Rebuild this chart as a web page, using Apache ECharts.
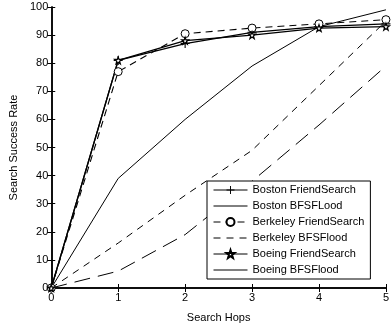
<!DOCTYPE html>
<html><head><meta charset="utf-8">
<script src="https://cdn.jsdelivr.net/npm/echarts@6/dist/echarts.min.js"></script>
<style>html,body{margin:0;padding:0;background:#fff}#c{width:392px;height:328px}</style>
</head><body><div id="c"></div>
<script>
var hops = [0, 1, 2, 3, 4, 5];
var xTicks = [0, 1, 2, 3, 4, 5];
var yTicks = [0, 10, 20, 30, 40, 50, 60, 70, 80, 90, 100];
var seriesNames = ['Boston FriendSearch', 'Boston BFSFLood', 'Berkeley FriendSearch', 'Berkeley BFSFlood', 'Boeing FriendSearch', 'Boeing BFSFlood'];
var bostonFriend = [0, 81, 87, 91, 93, 94];
var bostonBFS = [0, 39, 60, 79, 93, 99];
var berkeleyFriend = [0, 77, 90.5, 92.5, 94, 95.5];
var berkeleyBFS = [0, 16, 33, 49, 72, 95];
var boeingFriend = [0, 81, 88, 90, 92.5, 93];
var boeingBFS = [0, 6, 19, 38, 58, 79];

function pts(arr){ return hops.map(function(h,i){ return [h, arr[i]]; }); }
var plusSym = 'path://M4.4,0L5.6,0L5.6,4.4L10,4.4L10,5.6L5.6,5.6L5.6,10L4.4,10L4.4,5.6L0,5.6L0,4.4L4.4,4.4Z';
var boeingSym = 'path://M5,0L6.2,3.5L10,3.5L7,5.8L8.1,9.5L5,7.3L1.9,9.5L3,5.8L0,3.5L3.8,3.5Z';

var font = 'Liberation Sans, Arial, sans-serif';
var chart = echarts.init(document.getElementById('c'));
var hidden = {opacity: 0, color: '#000'};
function mk(name, data, opts){
  return Object.assign({
    name: name, type: 'line', data: pts(data), xAxisIndex: 0, yAxisIndex: 0,
    symbol: 'none', animation: false, z: 3,
    lineStyle: {color: '#000', width: 1, type: 'solid'},
    itemStyle: {color: '#000', borderColor: '#000', borderWidth: 1}
  }, opts);
}
chart.setOption({
  animation: false,
  backgroundColor: '#fff',
  textStyle: {fontFamily: font},
  grid: {left: 42, right: 3, top: 7, bottom: 35, containLabel: false},
  xAxis: [{
    type: 'value', min: 0, max: 5, interval: 1,
    name: 'Search Hops', nameLocation: 'middle', nameGap: 24,
    nameTextStyle: {fontSize: 11, color: '#000', fontFamily: font},
    axisLine: {show: true, lineStyle: {color: '#000', width: 1.5}},
    axisTick: {show: true, inside: true, length: 4, lineStyle: {color: '#000'}},
    axisLabel: {fontSize: 11, color: '#000', margin: 4, fontFamily: font,
      formatter: function(v){ return xTicks.indexOf(v) >= 0 ? String(v) : ''; }},
    splitLine: {show: false}
  }, {
    type: 'value', min: 0, max: 5, interval: 1, position: 'top',
    axisLine: {show: true, lineStyle: {color: '#000', width: 1.5}},
    axisTick: {show: true, inside: true, length: 4, lineStyle: {color: '#000'}},
    axisLabel: {show: false}, splitLine: {show: false}
  }],
  yAxis: [{
    type: 'value', min: 0, max: 100, interval: 10,
    name: 'Search Success Rate', nameLocation: 'middle', nameGap: 32,
    nameTextStyle: {fontSize: 11, color: '#000', fontFamily: font},
    axisLine: {show: true, lineStyle: {color: '#000', width: 1.5}},
    axisTick: {show: true, inside: true, length: 4, lineStyle: {color: '#000'}},
    axisLabel: {fontSize: 11, color: '#000', margin: 3, fontFamily: font,
      formatter: function(v){ return yTicks.indexOf(v) >= 0 ? String(v) : ''; }},
    splitLine: {show: false}
  }, {
    type: 'value', min: 0, max: 100, interval: 10, position: 'right',
    axisLine: {show: true, lineStyle: {color: '#000', width: 1.5}},
    axisTick: {show: true, inside: true, length: 4, lineStyle: {color: '#000'}},
    axisLabel: {show: false}, splitLine: {show: false}
  }],
  legend: {
    orient: 'vertical', left: 207, top: 181, width: 172,
    padding: [3, 6, 3, 6], itemWidth: 34, itemHeight: 10, itemGap: 4,
    backgroundColor: '#fff', borderColor: '#000', borderWidth: 1, borderRadius: 0,
    lineStyle: {width: 1},
    textStyle: {fontSize: 11, color: '#000', fontFamily: font, lineHeight: 12},
    data: [
      {name: seriesNames[0]},
      {name: seriesNames[1], itemStyle: hidden},
      {name: seriesNames[2]},
      {name: seriesNames[3], itemStyle: hidden},
      {name: seriesNames[4]},
      {name: seriesNames[5], itemStyle: hidden, lineStyle: {type: 'solid'}}
    ]
  },
  series: [
    mk(seriesNames[0], bostonFriend, {symbol: plusSym, symbolSize: 9, showSymbol: true,
      lineStyle: {color: '#000', width: 1.3, type: 'solid'},
      itemStyle: {color: '#000', borderWidth: 0}}),
    mk(seriesNames[1], bostonBFS, {lineStyle: {color: '#000', width: 1, type: 'solid'}, itemStyle: hidden}),
    mk(seriesNames[2], berkeleyFriend, {symbol: 'circle', symbolSize: 8, showSymbol: true,
      lineStyle: {color: '#000', width: 1.1, type: [7, 5]},
      itemStyle: {color: '#fff', borderColor: '#000', borderWidth: 1}}),
    mk(seriesNames[3], berkeleyBFS, {lineStyle: {color: '#000', width: 1, type: [7, 6]}, itemStyle: hidden}),
    mk(seriesNames[4], boeingFriend, {symbol: boeingSym, symbolSize: 7, showSymbol: true,
      lineStyle: {color: '#000', width: 1.3, type: 'solid'},
      itemStyle: {color: '#fff', borderColor: '#000', borderWidth: 1.2}}),
    mk(seriesNames[5], boeingBFS, {lineStyle: {color: '#000', width: 1, type: [16, 8]}, itemStyle: hidden})
  ]
});
</script></body></html>
